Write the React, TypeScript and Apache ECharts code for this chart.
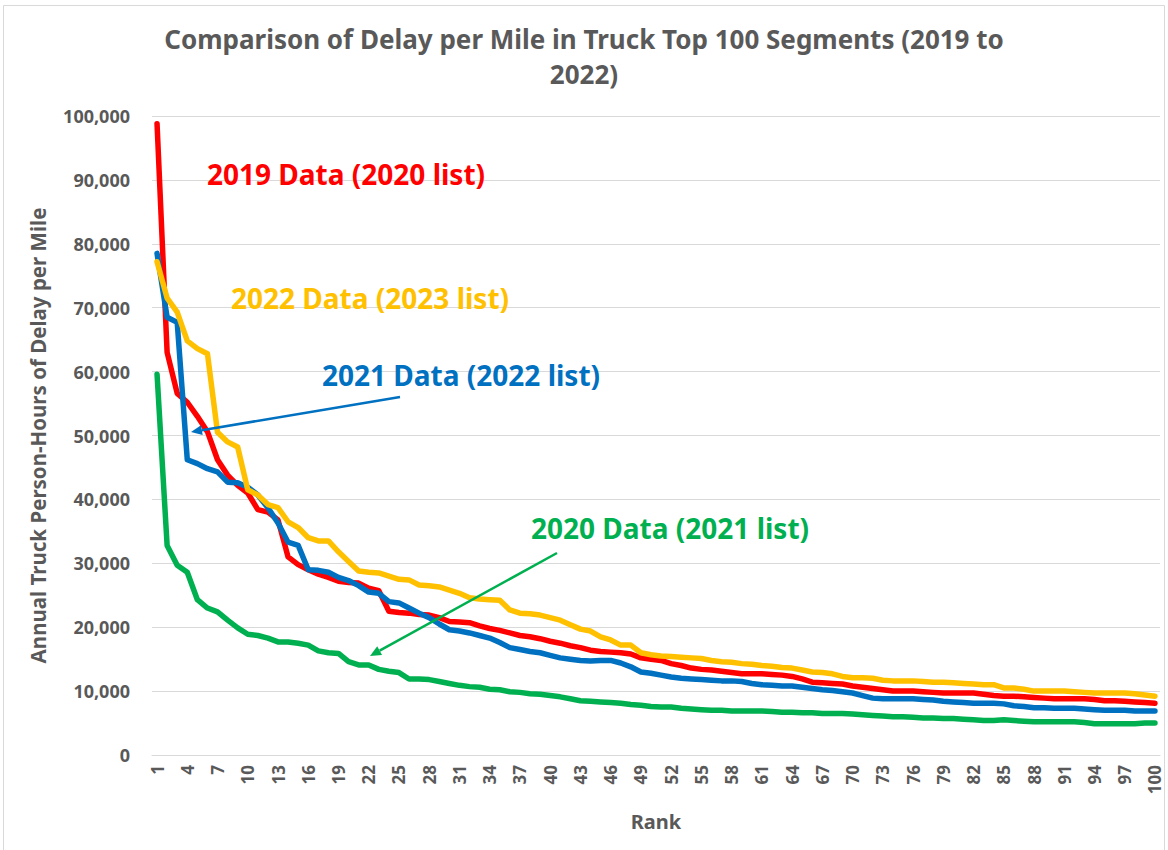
import React, { useEffect, useRef } from "react";
import * as echarts from "echarts";

const titleText = "Comparison of Delay per Mile in Truck Top 100 Segments (2019 to\n2022)";
const yAxisName = "Annual Truck Person-Hours of Delay per Mile";
const xAxisName = "Rank";

const ranks: string[] = Array.from({ length: 100 }, (_, i) => String(i + 1));

const data2019: number[] = [
  98800, 63000, 56600, 55200, 53000, 50600, 46200, 43800, 42200, 41000,
  38400, 38000, 36800, 31000, 29800, 29000, 28300, 27800, 27200, 27000,
  26900, 26100, 25700, 22500, 22300, 22200, 22000, 21900, 21500, 20900,
  20800, 20700, 20200, 19800, 19500, 19100, 18700, 18500, 18200, 17800,
  17500, 17100, 16800, 16400, 16200, 16100, 16000, 15800, 15200, 15000,
  14800, 14300, 14000, 13600, 13400, 13300, 13100, 12900, 12700, 12700,
  12700, 12600, 12500, 12300, 11900, 11400, 11300, 11200, 11100, 10800,
  10600, 10400, 10200, 10000, 10000, 10000, 9900, 9800, 9700, 9700,
  9700, 9700, 9500, 9300, 9200, 9200, 9100, 9000, 8900, 8800,
  8800, 8800, 8800, 8700, 8500, 8500, 8400, 8300, 8200, 8100,
];

const data2020: number[] = [
  59600, 32800, 29700, 28600, 24300, 23000, 22400, 21100, 19900, 18900,
  18700, 18300, 17700, 17700, 17500, 17200, 16300, 16000, 15900, 14600,
  14100, 14100, 13400, 13100, 12900, 11900, 11900, 11800, 11500, 11200,
  10900, 10700, 10600, 10300, 10200, 9900, 9800, 9600, 9500, 9300,
  9100, 8800, 8500, 8400, 8300, 8200, 8100, 7900, 7800, 7600,
  7500, 7500, 7300, 7200, 7100, 7000, 7000, 6900, 6900, 6900,
  6900, 6800, 6700, 6700, 6600, 6600, 6500, 6500, 6500, 6400,
  6300, 6200, 6100, 6000, 6000, 5900, 5800, 5800, 5700, 5700,
  5600, 5500, 5400, 5400, 5500, 5400, 5300, 5200, 5200, 5200,
  5200, 5200, 5100, 4900, 4900, 4900, 4900, 4900, 5000, 5000,
];

const data2021: number[] = [
  78500, 68500, 67700, 46200, 45600, 44800, 44300, 42700, 42600, 41900,
  40700, 38700, 36300, 33300, 32800, 29000, 28900, 28600, 27800, 27300,
  26500, 25500, 25300, 24000, 23800, 23000, 22200, 21500, 20500, 19600,
  19400, 19100, 18700, 18300, 17600, 16800, 16500, 16200, 16000, 15600,
  15200, 15000, 14800, 14700, 14800, 14800, 14400, 13800, 13000, 12800,
  12500, 12200, 12000, 11900, 11800, 11700, 11600, 11600, 11500, 11200,
  11000, 10900, 10800, 10800, 10600, 10400, 10200, 10100, 9900, 9700,
  9300, 8900, 8800, 8800, 8800, 8800, 8700, 8600, 8400, 8300,
  8200, 8100, 8100, 8100, 8000, 7700, 7600, 7400, 7400, 7300,
  7300, 7300, 7200, 7100, 7000, 7000, 7000, 6900, 6900, 6900,
];

const data2022: number[] = [
  77200, 71500, 69300, 64800, 63600, 62800, 50500, 49000, 48200, 41500,
  40700, 39200, 38700, 36500, 35600, 34000, 33500, 33500, 31800, 30300,
  28800, 28600, 28500, 28000, 27500, 27400, 26600, 26500, 26300, 25800,
  25300, 24600, 24400, 24300, 24200, 22700, 22200, 22100, 21900, 21500,
  21100, 20400, 19700, 19400, 18500, 18000, 17200, 17200, 16000, 15700,
  15500, 15400, 15300, 15200, 15100, 14800, 14600, 14500, 14300, 14200,
  14000, 13900, 13700, 13600, 13300, 13000, 12900, 12700, 12300, 12100,
  12100, 12000, 11700, 11600, 11600, 11600, 11500, 11400, 11400, 11300,
  11200, 11100, 11000, 11000, 10500, 10500, 10300, 10000, 10000, 10000,
  10000, 9900, 9800, 9700, 9700, 9700, 9700, 9600, 9400, 9200,
];

const seriesNames = ["2019 Data (2020 list)", "2020 Data (2021 list)", "2021 Data (2022 list)", "2022 Data (2023 list)"];
const seriesColors = ["#FF0000", "#00B050", "#0070C0", "#FFC000"];
const seriesData = [data2019, data2020, data2021, data2022];

const FONT = "'Noto Sans', 'Open Sans', sans-serif";
const GRAY = "#595959";

export default function App() {
  const ref = useRef<HTMLDivElement>(null);
  useEffect(() => {
    if (!ref.current) return;
    const chart = echarts.init(ref.current, null, { renderer: "svg" });
    const series: any[] = seriesNames.map((name, i) => ({
      name,
      type: "line",
      data: seriesData[i],
      showSymbol: false,
      symbol: "none",
      smooth: false,
      lineStyle: { color: seriesColors[i], width: 5.5, cap: "round", join: "round" },
      itemStyle: { color: seriesColors[i] },
      z: 2 + i,
    }));

    const arrows = [
      { color: "#0070C0", from: [400, 397], to: [191, 432] },
      { color: "#00B050", from: [557, 553], to: [370, 656] },
    ];

    const arrowGraphics: any[] = [];
    arrows.forEach((a) => {
      const dx = a.to[0] - a.from[0];
      const dy = a.to[1] - a.from[1];
      const len = Math.sqrt(dx * dx + dy * dy);
      const ux = dx / len;
      const uy = dy / len;
      const headLen = 11;
      const headW = 5;
      const bx = a.to[0] - ux * headLen;
      const by = a.to[1] - uy * headLen;
      arrowGraphics.push({
        type: "line",
        shape: { x1: a.from[0], y1: a.from[1], x2: bx, y2: by },
        style: { stroke: a.color, lineWidth: 2.5 },
        silent: true,
        z: 20,
      });
      arrowGraphics.push({
        type: "polygon",
        shape: {
          points: [
            [a.to[0], a.to[1]],
            [bx - uy * headW, by + ux * headW],
            [bx + uy * headW, by - ux * headW],
          ],
        },
        style: { fill: a.color },
        silent: true,
        z: 20,
      });
    });

    const annotations = [
      { text: seriesNames[0], x: 207, y: 174, color: seriesColors[0] },
      { text: seriesNames[3], x: 231, y: 298, color: seriesColors[3] },
      { text: seriesNames[2], x: 322, y: 375, color: seriesColors[2] },
      { text: seriesNames[1], x: 531, y: 528, color: seriesColors[1] },
    ];

    chart.setOption({
      animation: false,
      backgroundColor: "#FFFFFF",
      title: {
        text: titleText,
        left: "center",
        top: 16,
        textStyle: {
          fontFamily: FONT,
          fontSize: 26,
          fontWeight: "bold",
          color: GRAY,
          lineHeight: 35,
        },
      },
      grid: { left: 152, right: 8, top: 116, bottom: 95, containLabel: false },
      xAxis: {
        type: "category",
        data: ranks,
        boundaryGap: true,
        name: xAxisName,
        nameLocation: "middle",
        nameGap: 56,
        nameTextStyle: { fontFamily: FONT, fontSize: 20, fontWeight: "bold", color: GRAY },
        axisLine: { show: true, lineStyle: { color: "#D9D9D9", width: 1 } },
        axisTick: { show: false },
        axisLabel: {
          interval: 2,
          rotate: 90,
          margin: 10,
          fontFamily: FONT,
          fontSize: 17,
          fontWeight: "bold",
          color: GRAY,
        },
        splitLine: { show: false },
      },
      yAxis: {
        type: "value",
        min: 0,
        max: 100000,
        interval: 10000,
        name: yAxisName,
        nameLocation: "middle",
        nameGap: 104,
        nameRotate: 90,
        nameTextStyle: { fontFamily: FONT, fontSize: 20.5, fontWeight: "bold", color: GRAY },
        axisLine: { show: false },
        axisTick: { show: false },
        axisLabel: {
          margin: 22,
          fontFamily: FONT,
          fontSize: 18,
          fontWeight: "bold",
          color: GRAY,
          formatter: (v: number) => v.toLocaleString("en-US"),
        },
        splitLine: { show: true, lineStyle: { color: "#D9D9D9", width: 1 } },
      },
      series,
      graphic: [
        {
          type: "rect",
          shape: { x: 3.5, y: 5.5, width: 1161, height: 850 },
          style: { fill: "none", stroke: "#D9D9D9", lineWidth: 1 },
          silent: true,
          z: 0,
        },
        ...arrowGraphics,
        ...annotations.map((a) => ({
          type: "text",
          x: a.x,
          y: a.y,
          style: {
            text: a.text,
            fill: a.color,
            fontFamily: FONT,
            fontSize: 28,
            fontWeight: "bold",
            verticalAlign: "middle",
          },
          z: 10,
        })),
      ],
    });
    return () => chart.dispose();
  }, []);
  return (
    <div
      ref={ref}
      style={{ position: "fixed", left: 0, top: 0, width: 1168, height: 850, background: "#fff" }}
    />
  );
}
